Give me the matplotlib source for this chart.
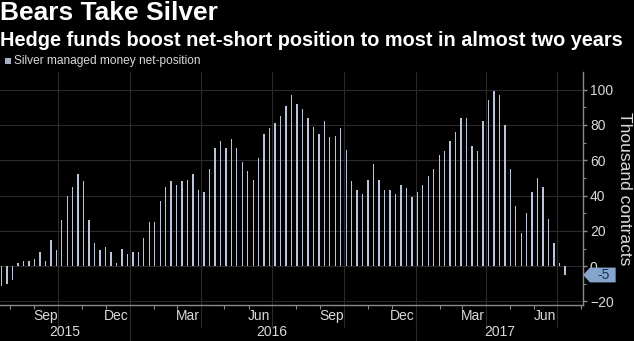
import matplotlib
matplotlib.use("Agg")
import matplotlib.pyplot as plt
import matplotlib.dates as mdates
import matplotlib.transforms as mtransforms
from matplotlib.patches import Polygon, Rectangle
import pandas as pd

# weekly CFTC report dates (Tuesdays) and net position, thousand contracts
weeks = pd.date_range("2015-07-21", periods=104, freq="7D")
net_position = [
    -11, -10, -8, 2, 3, 3, 4, 8, 3, 15,
    9, 26, 40, 45, 52, 48, 26, 13, 9, 11,
    8, 2, 10, 7, 8, 8, 16, 25, 25, 37,
    45, 48, 46, 48, 49, 52, 43, 42, 55, 67,
    71, 67, 72, 67, 59, 54, 49, 61, 75, 78,
    81, 85, 91, 97, 92, 89, 84, 79, 75, 82,
    73, 74, 78, 66, 48, 43, 41, 49, 58, 49,
    43, 43, 41, 46, 44, 39, 42, 46, 51, 55,
    63, 65, 71, 76, 84, 84, 68, 65, 82, 94,
    99, 97, 80, 55, 34, 19, 30, 42, 50, 45,
    27, 13, 2, -5,
]
month_labels = ["Sep", "Dec", "Mar", "Jun", "Sep", "Dec", "Mar", "Jun"]
month_label_dates = pd.to_datetime([
    "2015-09-15", "2015-12-15", "2016-03-15", "2016-06-15",
    "2016-09-15", "2016-12-15", "2017-03-15", "2017-06-15",
])
year_labels = ["2015", "2016", "2017"]
year_starts = pd.to_datetime(["2016-01-01", "2017-01-01"])

plt.rcParams["font.family"] = ["Liberation Sans", "DejaVu Sans"]

BG = "#000000"
BAR = "#b9c3da"
GRID = "#2a2a2a"
AXIS = "#8a8a8a"
TEXT = "#dadada"

fig = plt.figure(figsize=(6.34, 3.41), dpi=100, facecolor=BG)
ax = fig.add_axes([0, 1 - 305 / 341, 583 / 634, 233 / 341])
ax.set_facecolor(BG)

ax.bar(weeks, net_position, width=1.8, color=BAR, zorder=2)

xmin, xmax = pd.Timestamp("2015-07-19"), pd.Timestamp("2017-08-03")
ax.set_xlim(xmin, xmax)
ax.set_ylim(-22, 110)

# x axis: quarter gridlines, monthly minor ticks
ax.xaxis.set_major_locator(mdates.MonthLocator(bymonth=[1, 4, 7, 10]))
ax.xaxis.set_minor_locator(mdates.MonthLocator())
ax.tick_params(axis="x", which="major", length=16, width=0.8, color=GRID,
               labelbottom=False)
ax.tick_params(axis="x", which="minor", length=3, width=0.8, color=AXIS)

# y axis on the right
ax.yaxis.tick_right()
ax.set_yticks(range(-20, 101, 20))
ax.set_yticks(range(-20, 101, 10), minor=True)
ax.tick_params(axis="y", which="major", length=3, width=1, color=AXIS,
               labelcolor=TEXT, labelsize=10, pad=2)
ax.tick_params(axis="y", which="minor", length=2, width=0.8, color=AXIS)

ax.grid(which="major", color=GRID, linewidth=0.8)
ax.set_axisbelow(True)

for side in ["left", "top"]:
    ax.spines[side].set_visible(False)
for side in ["right", "bottom"]:
    ax.spines[side].set_color(AXIS)
    ax.spines[side].set_linewidth(1)

# month and year labels under the axis
xtrans = mtransforms.blended_transform_factory(ax.transData, ax.transAxes)
for lab, d in zip(month_labels, month_label_dates):
    ax.text(mdates.date2num(d), -0.047, lab, transform=xtrans, ha="center",
            va="center", color=TEXT, fontsize=10)

year_centers = [
    xmin + (year_starts[0] - xmin) / 2,
    pd.Timestamp("2016-07-01"),
    year_starts[1] + (xmax - year_starts[1]) / 2,
]
for lab, d in zip(year_labels, year_centers):
    ax.text(mdates.date2num(d), -0.116, lab, transform=xtrans, ha="center",
            va="center", color=TEXT, fontsize=10)
for d in year_starts:
    x = mdates.date2num(d)
    ax.plot([x, x], [0, -36 / 233], transform=xtrans, color=GRID, lw=0.8,
            clip_on=False)

# last value tag on the right axis
last = net_position[-1]
ytrans = mtransforms.blended_transform_factory(ax.transAxes, ax.transData)
tag = Polygon([(1.0, last), (1.012, last + 4.2), (1.056, last + 4.2),
               (1.056, last - 4.2), (1.012, last - 4.2)],
              closed=True, transform=ytrans, facecolor="#86a5cc",
              edgecolor="none", clip_on=False, zorder=5)
ax.add_patch(tag)
ax.text(1.035, last, f"{last:g}", transform=ytrans, ha="center", va="center",
        color="#13305e", fontsize=10, zorder=6)

fig.text(625 / 634, 1 - 189 / 341, "Thousand contracts", rotation=270,
         ha="center", va="center", color=TEXT, fontsize=12.5)

# titles and legend
fig.text(0.0, 1 - 13 / 341, "Bears Take Silver", ha="left", va="center",
         color="white", fontsize=19, fontweight="bold")
fig.text(0.0, 1 - 41 / 341,
         "Hedge funds boost net-short position to most in almost two years",
         ha="left", va="center", color="white", fontsize=14.3,
         fontweight="bold")
fig.patches.append(Rectangle((5 / 634, 1 - 64 / 341), 6 / 634, 6 / 341,
                             transform=fig.transFigure, facecolor="#a9b1c2",
                             edgecolor="none"))
fig.text(14 / 634, 1 - 61 / 341, "Silver managed money net-position",
         ha="left", va="center", color=TEXT, fontsize=8.6)

fig.savefig("out.png", dpi=100, facecolor=BG)
